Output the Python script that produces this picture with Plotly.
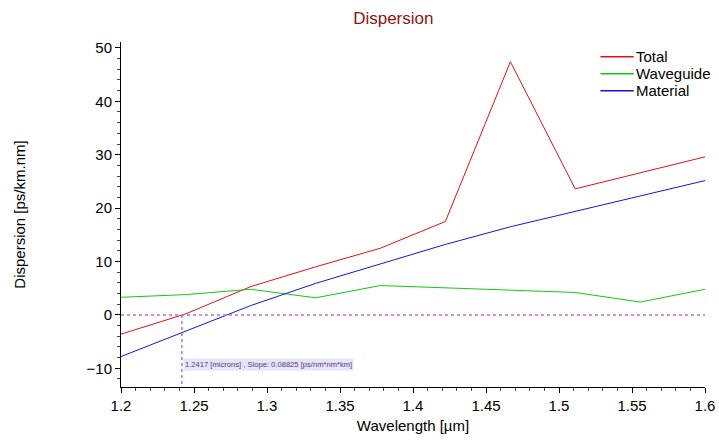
import plotly.graph_objects as go

# Wavelength samples [µm]
wavelength = [1.2, 1.2444, 1.2889, 1.3333, 1.3778, 1.4222, 1.4667, 1.5111, 1.5556, 1.6]

# Dispersion curves [ps/km.nm]
total = [-3.6, 0.2, 5.3, 9.0, 12.5, 17.5, 47.4, 23.6, 26.6, 29.6]
waveguide = [3.3, 3.8, 4.8, 3.2, 5.5, 5.1, 4.6, 4.2, 2.4, 4.8]
material = [-7.8, -3.0, 1.75, 5.9, 9.55, 13.2, 16.5, 19.35, 22.3, 25.15]

series_names = ["Total", "Waveguide", "Material"]
series_colors = ["rgb(220,20,20)", "rgb(20,200,20)", "rgb(20,20,220)"]

# Zero-dispersion point and slope
zero_wl = 1.2417
zero_slope = 0.08825

y_range = [-13.5, 51.1]
x_range = [1.2, 1.6]

font_family = "Liberation Sans, Arial, sans-serif"

fig = go.Figure()

for name, vals, color in zip(series_names, [total, waveguide, material], series_colors):
    fig.add_trace(go.Scatter(
        x=wavelength, y=vals, mode="lines", name=name,
        line=dict(color=color, width=1), showlegend=False,
    ))

# Zero-dispersion markers
marker_color = "rgb(190,110,200)"
fig.add_trace(go.Scatter(
    x=x_range, y=[0, 0], mode="lines", showlegend=False, hoverinfo="skip",
    line=dict(color=marker_color, width=1.5, dash="dot"),
))
fig.add_trace(go.Scatter(
    x=[zero_wl, zero_wl], y=[0, y_range[0]], mode="lines", showlegend=False, hoverinfo="skip",
    line=dict(color=marker_color, width=1.5, dash="dot"),
))

fig.add_annotation(
    x=zero_wl, y=-9.3, xref="x", yref="y", xanchor="left", yanchor="middle",
    text=f"{zero_wl} [microns] , Slope: {zero_slope} [ps/nm*nm*km]",
    showarrow=False, font=dict(size=7.6, color="rgb(90,60,110)", family=font_family),
    bgcolor="rgb(228,228,252)", borderpad=1, xshift=1,
)

# Legend: short coloured swatch followed directly by the series name
leg_x0, leg_x1 = 0.821, 0.878
leg_top, leg_step = 0.957, 0.0493
for i, (name, color) in enumerate(zip(series_names, series_colors)):
    yy = leg_top - i * leg_step
    fig.add_shape(type="line", xref="paper", yref="paper",
                  x0=leg_x0, x1=leg_x1, y0=yy, y1=yy,
                  line=dict(color=color, width=1.5))
    fig.add_annotation(x=leg_x1, y=yy, xref="paper", yref="paper",
                       xanchor="left", yanchor="middle", showarrow=False,
                       text=name, font=dict(size=15, color="black", family=font_family))

axis_common = dict(
    showgrid=False, zeroline=False, showline=True, linecolor="black", linewidth=1,
    ticks="outside", ticklen=5, tickcolor="black",
    tickfont=dict(size=15, color="black", family=font_family),
    mirror=False, automargin=False,
)

fig.update_xaxes(
    range=x_range, dtick=0.05, tick0=1.2,
    minor=dict(dtick=0.01, ticks="outside", ticklen=3, tickcolor="rgb(70,70,70)"),
    title=dict(text="Wavelength [µm]", font=dict(size=15, color="black", family=font_family), standoff=7),
    **axis_common,
)
fig.update_yaxes(
    range=y_range, dtick=10, tick0=0,
    minor=dict(dtick=2, ticks="outside", ticklen=3, tickcolor="rgb(70,70,70)"),
    title=dict(text="Dispersion [ps/km.nm]", font=dict(size=15, color="black", family=font_family), standoff=57),
    **axis_common,
)

fig.update_layout(
    width=719, height=441,
    margin=dict(l=121, r=14, t=42, b=54),
    paper_bgcolor="white", plot_bgcolor="white",
    title=dict(text="Dispersion", x=0.547, xanchor="center", y=0.96, yanchor="middle",
               font=dict(size=17, color="rgb(140,20,20)", family=font_family)),
    showlegend=False,
)

fig.write_html("out.html")
